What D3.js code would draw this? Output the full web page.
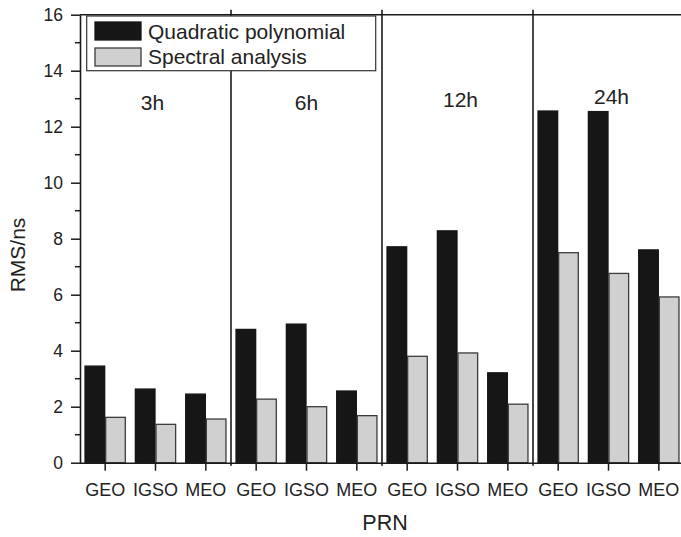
<!DOCTYPE html>
<html>
<head>
<meta charset="utf-8">
<script src="https://cdn.jsdelivr.net/npm/d3@7"></script>
<style>
  html, body { margin: 0; padding: 0; background: #fff; }
  svg { display: block; font-family: "Liberation Sans", Arial, sans-serif; }
</style>
</head>
<body>
<svg id="chart" width="681" height="537"></svg>
<script>
// Prediction windows and the orbit types inside each one
const windows = ["3h", "6h", "12h", "24h"];
const orbits = ["GEO", "IGSO", "MEO"];
// RMS (ns) for each window × orbit, in order
const quadratic = [3.45, 2.63, 2.45, 4.76, 4.95, 2.56, 7.71, 8.28, 3.21, 12.56, 12.54, 7.6];
const spectral  = [1.62, 1.37, 1.56, 2.27, 2.00, 1.68, 3.80, 3.92, 2.09, 7.50, 6.76, 5.92];
const seriesNames = ["Quadratic polynomial", "Spectral analysis"];
const yTicks = [0, 2, 4, 6, 8, 10, 12, 14, 16];

(function () {
  const svg = d3.select("#chart");
  const pLeft = 80, pRight = 684, pTop = 14.7, pBottom = 462.7;
  const ink = "#1a1a1a";

  const slots = d3.range(windows.length * orbits.length);
  const x = d3.scaleBand().domain(slots).range([pLeft, pRight]).paddingInner(0.18).paddingOuter(0.09);
  const step = x.step();
  const xs = d3.scaleBand().domain([0, 1]).range([0, x.bandwidth()]);
  const y = d3.scaleLinear().domain([0, 16]).range([pBottom, pTop]);

  const fills = ["#161616", "#d0d0d0"];
  const strokes = ["#161616", "#3c3c3c"];
  const series = [quadratic, spectral];

  // Bars
  series.forEach((vals, s) => {
    svg.append("g").selectAll("rect").data(vals).join("rect")
      .attr("x", (d, i) => x(i) + xs(s) + 0.5)
      .attr("y", d => y(d))
      .attr("width", xs.bandwidth() - 1)
      .attr("height", d => y(0) - y(d))
      .attr("fill", fills[s])
      .attr("stroke", strokes[s])
      .attr("stroke-width", 1.3);
  });

  // Vertical separators between prediction windows
  const sepX = d => x(d * orbits.length) - x.paddingInner() * step / 2;
  svg.append("g").selectAll("line").data(d3.range(1, windows.length)).join("line")
    .attr("x1", sepX).attr("x2", sepX)
    .attr("y1", pTop - 5).attr("y2", pBottom + 3)
    .attr("stroke", ink).attr("stroke-width", 1.6);

  // Top frame line
  svg.append("line").attr("x1", pLeft).attr("x2", 681).attr("y1", pTop).attr("y2", pTop)
    .attr("stroke", ink).attr("stroke-width", 1.6);

  // Y axis with minor ticks
  const yAxis = svg.append("g").attr("transform", `translate(${pLeft},0)`)
    .call(d3.axisLeft(y).tickValues(yTicks).tickSize(9).tickPadding(8).tickSizeOuter(0));
  svg.append("g").selectAll("line").data(d3.range(1, 16, 2)).join("line")
    .attr("x1", pLeft - 5).attr("x2", pLeft).attr("y1", d => y(d)).attr("y2", d => y(d))
    .attr("stroke", ink).attr("stroke-width", 1.5);

  // X axis
  const xAxis = svg.append("g").attr("transform", `translate(0,${pBottom})`)
    .call(d3.axisBottom(x).tickSize(8).tickPadding(13).tickSizeOuter(0)
      .tickFormat(i => orbits[i % orbits.length]));
  xAxis.select(".domain").attr("d", `M${pLeft},0.5H681`);

  [yAxis, xAxis].forEach(g => {
    g.select(".domain").attr("stroke", ink).attr("stroke-width", 1.6);
    g.selectAll(".tick line").attr("stroke", ink).attr("stroke-width", 1.5);
    g.selectAll(".tick text").attr("fill", "#222").style("font-size", "17.5px")
      .style("font-family", "'Liberation Sans', Arial, sans-serif");
  });
  xAxis.selectAll(".tick text").style("font-size", "18px");

  // Window labels
  const labelDx = [-3, 0, 3, 3];
  const labelVal = [12.6, 12.6, 12.7, 12.8];
  svg.append("g").selectAll("text").data(windows).join("text")
    .attr("x", (d, i) => (x(i * 3) + x(i * 3 + 2) + x.bandwidth()) / 2 + labelDx[i])
    .attr("y", (d, i) => y(labelVal[i]))
    .attr("text-anchor", "middle")
    .attr("fill", "#222").style("font-size", "21px")
    .text(d => d);

  // Axis titles
  svg.append("text").attr("x", 385).attr("y", 530).attr("text-anchor", "middle")
    .attr("fill", "#222").style("font-size", "21.5px").text("PRN");
  svg.append("text").attr("transform", "translate(25,255) rotate(-90)")
    .attr("text-anchor", "middle").attr("fill", "#222").style("font-size", "21px").text("RMS/ns");

  // Legend
  const lg = svg.append("g");
  lg.append("rect").attr("x", 86.7).attr("y", 16).attr("width", 289).attr("height", 54.7)
    .attr("fill", "#fff").attr("stroke", "#333").attr("stroke-width", 1.2);
  seriesNames.forEach((name, s) => {
    lg.append("rect").attr("x", 95).attr("y", 22 + s * 26).attr("width", 46).attr("height", 18)
      .attr("fill", fills[s]).attr("stroke", strokes[s]).attr("stroke-width", 1.3);
    lg.append("text").attr("x", 148).attr("y", 38.5 + s * 25)
      .attr("fill", "#222").style("font-size", "21px").text(name);
  });
})();
</script>
</body>
</html>
